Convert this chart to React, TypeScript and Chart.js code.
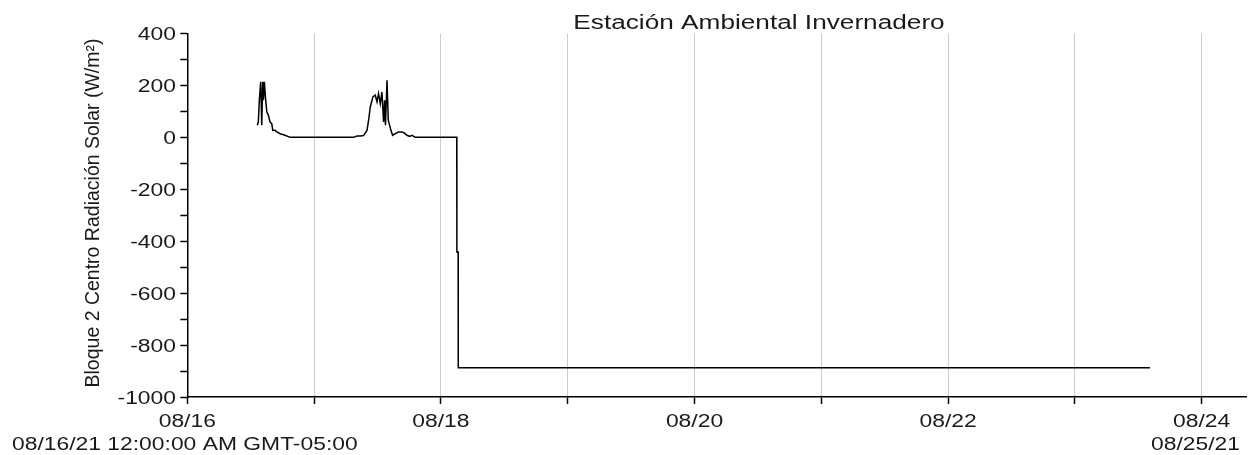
import React, { useEffect, useRef } from 'react';
import { Chart, registerables } from 'chart.js';

Chart.register(...registerables);

const TITLE = 'Estación Ambiental Invernadero';
const Y_TITLE = 'Bloque 2 Centro Radiación Solar (W/m²)';
const START_LABEL = '08/16/21 12:00:00 AM GMT-05:00';
const END_LABEL = '08/25/21';

// time in days since 08/16/21 00:00
const dayOffsets = [
  0.552, 0.56, 0.568, 0.579, 0.587, 0.595, 0.6, 0.608, 0.616, 0.627, 0.639, 0.653, 0.666, 0.674,
  0.692, 0.706, 0.732, 0.771, 0.811, 1.311, 1.338, 1.364, 1.39, 1.417, 1.43, 1.443, 1.464, 1.482,
  1.496, 1.508, 1.522, 1.535, 1.548, 1.556, 1.563, 1.575, 1.585, 1.595, 1.606, 1.619, 1.64, 1.666,
  1.693, 1.711, 1.732, 1.753, 1.772, 1.798, 2.125, 2.126, 2.136, 2.137, 7.592,
];
// W/m²
const radiation = [
  47, 59, 143, 214, 47, 214, 143, 214, 156, 98, 85, 59, 53, 27,
  27, 21, 14, 8, 0, 0, 5, 5, 7, 27, 66, 117, 156, 163,
  137, 169, 130, 175, 59, 143, 47, 220, 66, 47, 27, 8, 14, 21,
  21, 17, 8, 4, 8, 0, 0, -442, -442, -887, -887,
];

const xTickValues = [0, 1, 2, 3, 4, 5, 6, 7, 8];
const xTickLabels = ['08/16', '', '08/18', '', '08/20', '', '08/22', '', '08/24'];
const yTickValues = [-1000, -900, -800, -700, -600, -500, -400, -300, -200, -100, 0, 100, 200, 300, 400];
const yLabelValues = [-1000, -800, -600, -400, -200, 0, 200, 400];

const X_MIN = 0;
const X_MAX = 8.355;
const Y_MIN = -1000;
const Y_MAX = 400;

const FONT = "'Liberation Sans', Arial, Helvetica, sans-serif";
const TEXT_COLOR = '#1a1a1a';
const STRETCH = 1.27;

function stretchedText(ctx: any, text: string, x: number, y: number, align: string, baseline: string, sx: number) {
  ctx.save();
  ctx.translate(x, y);
  ctx.scale(sx, 1);
  ctx.textAlign = align;
  ctx.textBaseline = baseline;
  ctx.fillText(text, 0, 0);
  ctx.restore();
}

const textPlugin = {
  id: 'customText',
  afterDraw(chart: any) {
    const ctx = chart.ctx as any;
    const xs = chart.scales.x;
    const ys = chart.scales.y;
    ctx.save();
    ctx.fillStyle = TEXT_COLOR;

    ctx.font = `20px ${FONT}`;
    stretchedText(ctx, TITLE, 759, 29, 'center', 'alphabetic', 1.31);

    ctx.font = `18px ${FONT}`;
    xTickValues.forEach((v, i) => {
      const label = xTickLabels[i];
      if (!label) return;
      stretchedText(ctx, label, xs.getPixelForValue(v), 427, 'center', 'alphabetic', STRETCH);
    });
    yLabelValues.forEach((v) => {
      stretchedText(ctx, String(v), 176, ys.getPixelForValue(v) + 2, 'right', 'middle', STRETCH);
    });

    stretchedText(ctx, START_LABEL, 12, 450, 'left', 'alphabetic', STRETCH);
    stretchedText(ctx, END_LABEL, 1240, 450, 'right', 'alphabetic', STRETCH);

    ctx.translate(99, 213);
    ctx.rotate(-Math.PI / 2);
    ctx.font = `19.5px ${FONT}`;
    ctx.textAlign = 'center';
    ctx.textBaseline = 'alphabetic';
    ctx.fillText(Y_TITLE, 0, 0);
    ctx.restore();
  },
};

export default function App() {
  const canvasRef = useRef<HTMLCanvasElement | null>(null);

  useEffect(() => {
    const canvas = canvasRef.current;
    if (!canvas) return;
    const chart = new Chart(canvas, {
      type: 'line',
      data: {
        datasets: [
          {
            data: dayOffsets.map((d, i) => ({ x: d, y: radiation[i] })),
            borderColor: '#000',
            borderWidth: 1.5,
            pointRadius: 0,
            tension: 0,
            fill: false,
          },
        ],
      },
      options: {
        animation: false,
        responsive: true,
        maintainAspectRatio: false,
        events: [],
        layout: { padding: { top: 33.5, right: 8.3, bottom: 0, left: 0 } },
        plugins: {
          legend: { display: false },
          title: { display: false },
          tooltip: { enabled: false },
        },
        scales: {
          x: {
            type: 'linear',
            min: X_MIN,
            max: X_MAX,
            afterBuildTicks: (s: any) => {
              s.ticks = xTickValues.map((v) => ({ value: v }));
            },
            afterFit: (s: any) => {
              s.height = 58;
            },
            ticks: { display: false, autoSkip: false, maxRotation: 0, minRotation: 0 },
            grid: {
              color: '#cccccc',
              lineWidth: 1,
              tickColor: '#000',
              tickLength: 7,
              tickWidth: 1.5,
              drawOnChartArea: true,
              drawTicks: true,
            },
            border: { color: '#000', width: 1.5 },
          },
          y: {
            type: 'linear',
            min: Y_MIN,
            max: Y_MAX,
            afterBuildTicks: (s: any) => {
              s.ticks = yTickValues.map((v) => ({ value: v }));
            },
            afterFit: (s: any) => {
              s.width = 187.3;
            },
            ticks: { display: false, autoSkip: false },
            grid: {
              drawOnChartArea: false,
              drawTicks: true,
              tickColor: '#000',
              tickLength: 7,
              tickWidth: 1.5,
            },
            border: { color: '#000', width: 1.5 },
          },
        },
      } as any,
      plugins: [textPlugin as any],
    });
    return () => chart.destroy();
  }, []);

  return (
    <div style={{ position: 'fixed', left: 0, top: 0, width: 1255, height: 455, background: '#fff' }}>
      <canvas ref={canvasRef} style={{ display: 'block' }} />
    </div>
  );
}
